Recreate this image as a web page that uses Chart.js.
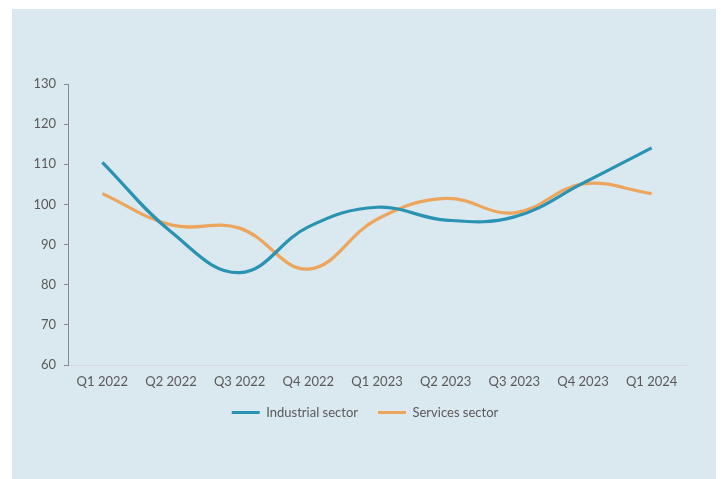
<!DOCTYPE html>
<html>
<head>
<meta charset="utf-8">
<script src="https://cdn.jsdelivr.net/npm/chart.js@4/dist/chart.umd.min.js"></script>
<style>
html,body{margin:0;padding:0;background:#ffffff;}
#wrap{position:relative;width:721px;height:479px;}
</style>
</head>
<body>
<div id="wrap"><canvas id="c" width="721" height="479"></canvas></div>
<script>
const categories = ["Q1 2022","Q2 2022","Q3 2022","Q4 2022","Q1 2023","Q2 2023","Q3 2023","Q4 2023","Q1 2024"];
const industrialSector = [110.5, 93.2, 83.0, 94.4, 99.3, 96.1, 96.9, 105.3, 114.1];
const servicesSector = [102.7, 94.9, 94.1, 83.9, 96.3, 101.5, 97.9, 105.1, 102.7];
const yTicks = [60, 70, 80, 90, 100, 110, 120, 130];

const panelBg = {
  id: 'panelBg',
  beforeDraw(chart) {
    const ctx = chart.ctx;
    ctx.save();
    ctx.fillStyle = '#dae8ef';
    ctx.fillRect(12, 9, 704, 470);
    ctx.restore();
  }
};

const legendShift = {
  id: 'legendShift',
  afterLayout(chart) {
    const lg = chart.legend;
    if (lg) { lg.left += 22; lg.right += 22; lg.top -= 6; lg.bottom -= 6; }
  }
};

const FONT = "Lato, 'Open Sans', sans-serif";
const TXT = '#595959';

new Chart(document.getElementById('c'), {
  type: 'line',
  data: {
    labels: categories,
    datasets: [
      { label: 'Industrial sector', data: industrialSector, borderColor: '#2a93b3', backgroundColor: '#2a93b3', borderWidth: 3.2, pointRadius: 0, tension: 0.4, fill: false },
      { label: 'Services sector', data: servicesSector, borderColor: '#eda55c', backgroundColor: '#eda55c', borderWidth: 3.2, pointRadius: 0, tension: 0.4, fill: false }
    ]
  },
  options: {
    responsive: false,
    animation: false,
    devicePixelRatio: 1,
    layout: { padding: { left: 0, right: 35, top: 84, bottom: 44 } },
    plugins: {
      legend: {
        position: 'bottom',
        labels: {
          font: { family: FONT, size: 13 },
          color: TXT,
          boxWidth: 28,
          boxHeight: 3,
          padding: 20,
          generateLabels(chart) {
            const items = Chart.defaults.plugins.legend.labels.generateLabels(chart);
            items.forEach(i => { i.lineWidth = 0; });
            return items;
          }
        }
      },
      tooltip: { enabled: false }
    },
    scales: {
      x: {
        offset: true,
        grid: { display: false, drawTicks: false },
        border: { display: true, color: '#d8d8de', width: 1 },
        ticks: { font: { family: FONT, size: 13 }, color: TXT, padding: 9, maxRotation: 0 },
        afterFit(s) { s.height = 27; }
      },
      y: {
        min: 60, max: 130,
        afterBuildTicks(s) { s.ticks = yTicks.map(v => ({ value: v })); },
        grid: { drawOnChartArea: false, drawTicks: true, tickLength: 4, color: '#8a8a8a' },
        border: { display: true, color: '#8a8a8a', width: 1 },
        ticks: { font: { family: FONT, size: 13 }, color: TXT, padding: 8 },
        afterFit(s) { s.width = 68; }
      }
    }
  },
  plugins: [panelBg, legendShift]
});
</script>
</body>
</html>
